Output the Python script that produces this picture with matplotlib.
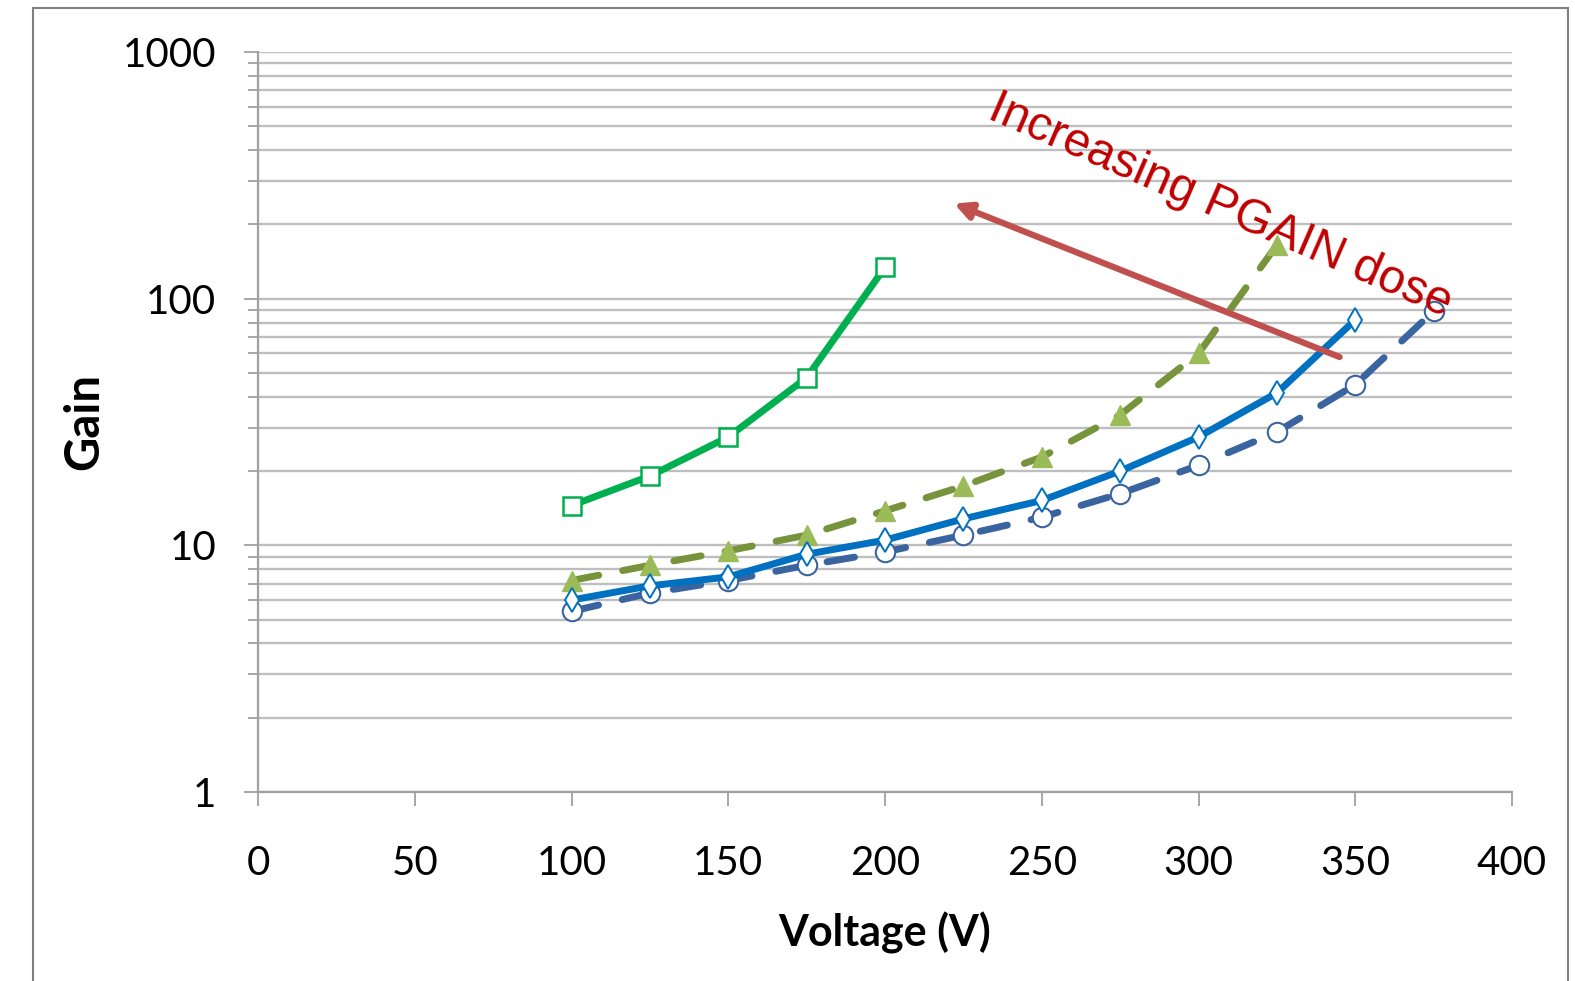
import matplotlib
matplotlib.use("Agg")
import matplotlib.pyplot as plt
from matplotlib.patches import Rectangle
from matplotlib.ticker import LogLocator, NullFormatter, FixedLocator, FixedFormatter

# gain vs voltage for the four PGAIN doses
v_square = [100, 125, 150, 175, 200]
g_square = [14.5, 19.1, 27.5, 47.8, 134]

v_triangle = [100, 125, 150, 175, 200, 225, 250, 275, 300, 325]
g_triangle = [7.2, 8.3, 9.5, 11.0, 13.8, 17.4, 22.8, 33.8, 60, 165]

v_diamond = [100, 125, 150, 175, 200, 225, 250, 275, 300, 325, 350]
g_diamond = [6.0, 6.85, 7.45, 9.2, 10.5, 12.8, 15.2, 20.0, 27.5, 41.5, 82]

v_circle = [100, 125, 150, 175, 200, 225, 250, 275, 300, 325, 350, 375]
g_circle = [5.4, 6.4, 7.2, 8.3, 9.4, 11.0, 13.0, 16.2, 21.1, 28.8, 44.8, 89]

x_ticks = [0, 50, 100, 150, 200, 250, 300, 350, 400]
y_ticks = [1, 10, 100, 1000]
y_tick_labels = ["1", "10", "100", "1000"]

arrow_tail = (345, 58)
arrow_head = (222, 243)
note_pos = (307, 237)
note_text = "Increasing PGAIN dose"

fig = plt.figure(figsize=(15.75, 9.81), dpi=100)
ax = fig.add_axes([258 / 1575, 1 - 792 / 981, (1512 - 258) / 1575, (792 - 52) / 981])

ax.set_yscale("log")
ax.set_xlim(0, 400)
ax.set_ylim(1, 1000)

grid_c = "#BEBEBE"
ax.yaxis.set_major_locator(FixedLocator(y_ticks))
ax.yaxis.set_major_formatter(FixedFormatter(y_tick_labels))
ax.yaxis.set_minor_locator(LogLocator(base=10, subs=range(2, 10)))
ax.yaxis.set_minor_formatter(NullFormatter())
ax.grid(True, which="both", axis="y", color=grid_c, linewidth=1.7)
ax.set_axisbelow(True)

ax.set_xticks(x_ticks)
for side in ["top", "right"]:
    ax.spines[side].set_visible(False)
for side in ["left", "bottom"]:
    ax.spines[side].set_color("#A0A0A0")
    ax.spines[side].set_linewidth(1.6)

tick_font = "Lato"
ax.tick_params(axis="both", which="major", direction="out", length=10, width=1.3,
               color="#A0A0A0", labelsize=29, pad=20)
ax.tick_params(axis="x", which="major", pad=28)
ax.tick_params(axis="y", which="minor", direction="out", length=7, width=1.3,
               color="#A0A0A0")
for lab in ax.get_xticklabels() + ax.get_yticklabels():
    lab.set_fontfamily(tick_font)

ax.plot(v_square, g_square, color="#00B050", linewidth=5, marker="s", markersize=13,
        markerfacecolor="white", markeredgecolor="#00B050", markeredgewidth=1.8,
        solid_capstyle="round", zorder=4)
ax.plot(v_triangle, g_triangle, color="#77933C", linewidth=5, linestyle=(0, (4, 3.5)),
        dash_capstyle="round", marker="^", markersize=15,
        markerfacecolor="#9BBB59", markeredgecolor="#9BBB59", zorder=3)
ax.plot(v_diamond, g_diamond, color="#0070C0", linewidth=5, marker="d", markersize=12,
        markerfacecolor="white", markeredgecolor="#0070C0", markeredgewidth=1.4,
        solid_capstyle="round", zorder=5)
ax.plot(v_circle, g_circle, color="#3A64A0", linewidth=5, linestyle=(0, (4, 3.5)),
        dash_capstyle="round", marker="o", markersize=14,
        markerfacecolor="white", markeredgecolor="#3A64A0", markeredgewidth=1.5, zorder=4)

ax.annotate("", xy=arrow_head, xytext=arrow_tail,
            arrowprops=dict(arrowstyle="-|>,head_length=1.0,head_width=0.5",
                            color="#C0504D", linewidth=4.5, shrinkA=0, shrinkB=0),
            zorder=6)
ax.text(note_pos[0], note_pos[1], note_text, color="#C00000", fontsize=34.5,
        family="Liberation Sans", rotation=-23.5, rotation_mode="anchor",
        ha="center", va="center", zorder=7)

ax.set_xlabel("Voltage (V)", fontsize=31, fontweight="bold", family="Lato", labelpad=22)
ax.set_ylabel("Gain", fontsize=34, fontweight="bold", family="Lato", labelpad=12)

fig.patches.append(Rectangle((33 / 1575, -0.05), (1568 - 33) / 1575, 1.05 - 8 / 981,
                             transform=fig.transFigure, fill=False,
                             edgecolor="#808080", linewidth=1.5))

fig.savefig("out.png", dpi=100)
